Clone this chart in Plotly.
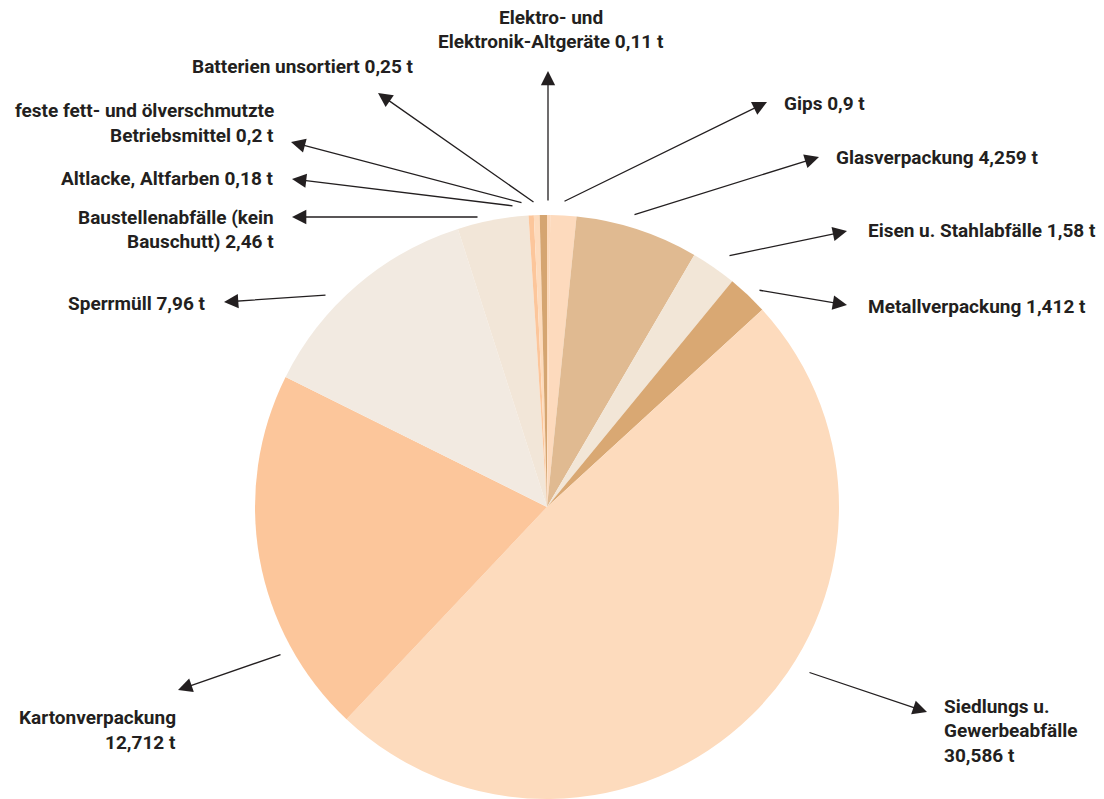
import plotly.graph_objects as go

# ---- data ----
categories = [
    "Elektro- und<br>Elektronik-Altgeräte",
    "Gips",
    "Glasverpackung",
    "Eisen u. Stahlabfälle",
    "Metallverpackung",
    "Siedlungs u.<br>Gewerbeabfälle",
    "Kartonverpackung",
    "Sperrmüll",
    "Baustellenabfälle (kein<br>Bauschutt)",
    "Altlacke, Altfarben",
    "feste fett- und ölverschmutzte<br>Betriebsmittel",
    "Batterien unsortiert",
]
values = [0.11, 0.9, 4.259, 1.58, 1.412, 30.586, 12.712, 7.96, 2.46, 0.18, 0.2, 0.25]
value_labels = ["0,11", "0,9", "4,259", "1,58", "1,412", "30,586", "12,712", "7,96", "2,46", "0,18", "0,2", "0,25"]
# how the value is joined to the name in each label (space or line break)
value_sep = [" ", " ", " ", " ", " ", "<br>", "<br>", " ", " ", " ", " ", " "]

# ---- styles ----
colors = ["#FDD9BB", "#FDDABD", "#E0BA91", "#F2E6D7", "#D9A873", "#FDDBBD",
          "#FCC69B", "#F2EAE1", "#F2E6D8", "#FCC69B", "#FDDBBD", "#D5A571"]
TEXT_COLOR = "#231F20"
FONT = "Roboto, DejaVu Sans Condensed, sans-serif"
FONT_SIZE = 19
LINE_GAP = 24.5
W, H = 1104, 799

# label layout (pixel positions): text anchor x, block centre y, xanchor, arrow head (x, y), arrow tail (x, y)
label_layout = [
    (551, 29.5, "center", (548, 71), (548, 202)),
    (782, 103, "left", (767, 102), (563, 202)),
    (834, 157, "left", (819, 157), (633, 215)),
    (866, 230, "left", (847, 231), (728, 256)),
    (866, 306, "left", (847, 305), (758, 290)),
    (942, 730.5, "left", (927, 712), (808, 672)),
    (178, 730, "right", (178, 690), (282, 654)),
    (208, 303, "right", (224, 302), (327, 295)),
    (276, 229.5, "right", (292, 217), (479, 217)),
    (276, 178, "right", (292, 179), (514, 206)),
    (276, 123, "right", (291, 142), (523, 203)),
    (416, 66, "right", (378, 93), (535, 203)),
]

fig = go.Figure()
fig.add_trace(go.Pie(
    labels=[c.replace("<br>", " ") for c in categories],
    values=values,
    sort=False,
    direction="clockwise",
    rotation=0,
    marker=dict(colors=colors, line=dict(width=0)),
    textinfo="none",
    hoverinfo="label+value",
    showlegend=False,
    domain=dict(x=[255 / W, 839 / W], y=[0, 584 / H]),
))
# invisible cartesian frame in pixel units for labels and arrows
fig.add_trace(go.Scatter(x=[], y=[], showlegend=False, hoverinfo="skip"))

annotations = []
for cat, vl, sep, (tx, ty, xa, head, tail) in zip(categories, value_labels, value_sep, label_layout):
    lines = f"{cat}{sep}{vl} t".split("<br>")
    n = len(lines)
    for i, line in enumerate(lines):
        annotations.append(dict(
            x=tx, y=ty + (i - (n - 1) / 2) * LINE_GAP, xref="x", yref="y",
            xanchor=xa, yanchor="middle", align=xa,
            text=f"<b>{line}</b>", showarrow=False,
            font=dict(family=FONT, size=FONT_SIZE, color=TEXT_COLOR),
        ))
    annotations.append(dict(
        x=head[0], y=head[1], xref="x", yref="y",
        ax=tail[0], ay=tail[1], axref="x", ayref="y",
        text="", showarrow=True, arrowhead=2, arrowsize=2.2,
        arrowwidth=1.3, arrowcolor=TEXT_COLOR, standoff=0, startstandoff=0,
    ))

fig.update_layout(
    width=W, height=H, autosize=False,
    margin=dict(l=0, r=0, t=0, b=0),
    paper_bgcolor="white", plot_bgcolor="white",
    xaxis=dict(range=[0, W], visible=False, fixedrange=True, domain=[0, 1]),
    yaxis=dict(range=[H, 0], visible=False, fixedrange=True, domain=[0, 1]),
    annotations=annotations,
)

fig.write_html("out.html", config={"displayModeBar": False},
               post_script="document.body.style.margin='0px';")
